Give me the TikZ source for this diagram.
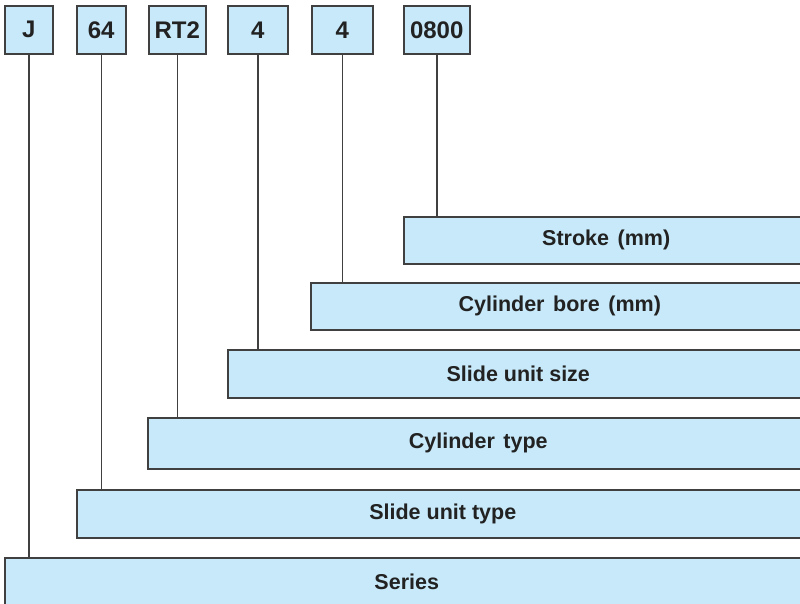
\documentclass[tikz,border=0pt]{standalone}
\usepackage{fontspec}
\setmainfont{Liberation Sans}
\definecolor{boxfill}{HTML}{C7E9F9}
\definecolor{boxdraw}{HTML}{404040}
\definecolor{txt}{HTML}{222222}
\begin{document}
\begin{tikzpicture}[x=1pt,y=-1pt,
  code/.style={draw=boxdraw,fill=boxfill,line width=1.5pt,inner sep=0pt,anchor=north west,
    text=txt,font=\fontsize{24}{24}\selectfont\bfseries,minimum height=48pt},
  field/.style={draw=boxdraw,fill=boxfill,line width=1.5pt,inner sep=0pt,anchor=north west,
    text=txt,font=\fontsize{21.5}{21.5}\selectfont\bfseries},
  link/.style={draw=boxdraw,line width=1.5pt}]
\useasboundingbox (0,0) rectangle (800,603);
\clip (0,0) rectangle (800,603);
% code boxes
\node[code,minimum width=48pt] (cJ) at (4,5) {J};
\node[code,minimum width=49pt] (c64) at (76,5) {64};
\node[code,minimum width=57pt] (cRT) at (148,5) {RT2};
\node[code,minimum width=60pt] (cS) at (227,5) {4};
\node[code,minimum width=61pt] (cB) at (311,5) {4};
\node[code,minimum width=66pt] (cL) at (403,5) {0800};
% field boxes
\node[field,minimum width=405pt,minimum height=47pt] (fL) at (403,216) {Stroke\hspace{0.4em}(mm)};
\node[field,minimum width=498pt,minimum height=47pt] (fB) at (310,282) {Cylinder\hspace{0.4em}bore\hspace{0.4em}(mm)};
\node[field,minimum width=581pt,minimum height=48pt] (fS) at (227,349) {Slide unit size};
\node[field,minimum width=661pt,minimum height=51pt] (fRT) at (147,417) {Cylinder\hspace{0.4em}type};
\node[field,minimum width=732pt,minimum height=48pt] (f64) at (76,489) {Slide unit type};
\node[field,minimum width=804pt,minimum height=48pt] (fJ) at (4,557) {Series};
% connectors
\draw[link] (cJ.south) -- (cJ.south |- fJ.north);
\draw[link] (c64.south) -- (c64.south |- f64.north);
\draw[link] (cRT.south) -- (cRT.south |- fRT.north);
\draw[link] (cS.south) -- (cS.south |- fS.north);
\draw[link] (cB.south) -- (cB.south |- fB.north);
\draw[link] (cL.south) -- (cL.south |- fL.north);
\end{tikzpicture}
\end{document}
